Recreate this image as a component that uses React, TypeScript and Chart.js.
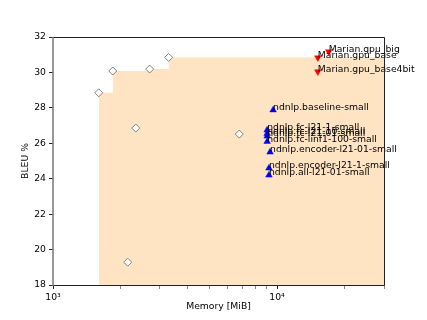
import React, { useEffect, useRef } from "react";
import { Chart, registerables } from "chart.js";

Chart.register(...registerables);

// Other systems (diamonds)
const otherMem = [1600, 1848, 2155, 2340, 2700, 3280, 6780];
const otherBleu = [28.85, 30.08, 19.29, 26.86, 30.19, 30.85, 26.52];

// Marian (red, down triangles)
const marianNames = ["Marian.gpu_big", "Marian.gpu_base", "Marian.gpu_base4bit"];
const marianMem = [17000, 15200, 15200];
const marianBleu = [31.17, 30.83, 30.04];

// ndnlp (blue, up triangles)
const ndnlpNames = [
  "ndnlp.baseline-small",
  "ndnlp.fc-l21-1-small",
  "ndnlp.fc-l21-10-small",
  "ndnlp.fc-l21-01-small",
  "ndnlp.fc-linf1-100-small",
  "ndnlp.encoder-l21-01-small",
  "ndnlp.encoder-l21-1-small",
  "ndnlp.all-l21-01-small",
];
const ndnlpMem = [9600, 9030, 9030, 9030, 9030, 9300, 9200, 9200];
const ndnlpBleu = [27.88, 26.75, 26.55, 26.4, 26.1, 25.5, 24.6, 24.2];

const xMin = 1000;
const xMax = 30000;
const yMin = 18;
const yMax = 32;
const yTicks = [18, 20, 22, 24, 26, 28, 30, 32];
const xTickValues = [1000, 2000, 3000, 4000, 5000, 6000, 7000, 8000, 9000, 10000, 20000, 30000];
const xTickLabels: Record<number, string> = { 1000: "10³", 10000: "10⁴" };

const FONT = "DejaVu Sans";

function paretoFront() {
  const idx = otherMem.map((_, i) => i).sort((a, b) => otherMem[a] - otherMem[b]);
  const pts: { x: number; y: number }[] = [];
  let best = -Infinity;
  for (const i of idx) {
    if (otherBleu[i] > best) {
      best = otherBleu[i];
      pts.push({ x: otherMem[i], y: otherBleu[i] });
    }
  }
  pts.push({ x: xMax, y: best });
  return pts;
}

export default function App() {
  const ref = useRef<HTMLCanvasElement>(null);
  useEffect(() => {
    if (!ref.current) return;
    const labelPlugin = {
      id: "labelsFrame",
      afterDatasetsDraw(chart: any) {
        const ctx = chart.ctx;
        ctx.save();
        ctx.font = `9.25px "${FONT}"`;
        ctx.fillStyle = "#000";
        ctx.textAlign = "left";
        ctx.textBaseline = "alphabetic";
        const draw = (dsIndex: number, names: string[]) => {
          const meta = chart.getDatasetMeta(dsIndex);
          meta.data.forEach((el: any, i: number) => {
            ctx.fillText(names[i], el.x, el.y);
          });
        };
        draw(2, marianNames);
        draw(3, ndnlpNames);
        ctx.restore();
      },
      afterDraw(chart: any) {
        const ctx = chart.ctx;
        const a = chart.chartArea;
        ctx.save();
        ctx.lineWidth = 1;
        ctx.strokeStyle = "#222";
        ctx.beginPath();
        ctx.moveTo(a.left, a.top + 0.5);
        ctx.lineTo(a.right + 0.5, a.top + 0.5);
        ctx.lineTo(a.right + 0.5, a.bottom + 0.5);
        ctx.lineTo(a.left, a.bottom + 0.5);
        ctx.stroke();
        ctx.strokeStyle = "#777";
        ctx.lineWidth = 1.5;
        ctx.beginPath();
        ctx.moveTo(a.left, a.top);
        ctx.lineTo(a.left, a.bottom + 1);
        ctx.stroke();
        // axis titles
        ctx.fillStyle = "#000";
        ctx.font = `9.25px "${FONT}"`;
        ctx.textAlign = "center";
        ctx.textBaseline = "middle";
        ctx.fillText("Memory [MiB]", (a.left + a.right) / 2, 307);
        ctx.translate(26, (a.top + a.bottom) / 2);
        ctx.rotate(-Math.PI / 2);
        ctx.fillText("BLEU %", 0, 0);
        ctx.restore();
      },
    };

    const chart = new Chart(ref.current, {
      type: "scatter",
      data: {
        datasets: [
          {
            type: "line",
            data: paretoFront(),
            stepped: "before",
            fill: "start",
            backgroundColor: "#FFE4C4",
            borderWidth: 0,
            borderColor: "rgba(0,0,0,0)",
            pointRadius: 0,
            order: 10,
          } as any,
          {
            data: otherMem.map((x, i) => ({ x, y: otherBleu[i] })),
            pointStyle: "rectRot",
            pointRadius: 4,
            backgroundColor: "#ffffff",
            borderColor: "#808080",
            borderWidth: 1,
            order: 3,
          },
          {
            data: marianMem.map((x, i) => ({ x, y: marianBleu[i] })),
            pointStyle: "triangle",
            rotation: 180,
            pointRadius: 3.8,
            backgroundColor: "#ff0000",
            borderColor: "#ff0000",
            borderWidth: 0.5,
            order: 2,
          } as any,
          {
            data: ndnlpMem.map((x, i) => ({ x, y: ndnlpBleu[i] })),
            pointStyle: "triangle",
            pointRadius: 3.8,
            backgroundColor: "#0000ff",
            borderColor: "#0000ff",
            borderWidth: 0.5,
            order: 1,
          },
        ],
      },
      options: {
        animation: false,
        responsive: false,
        devicePixelRatio: 1,
        clip: false as any,
        layout: { padding: { left: 0, top: 37, right: 43, bottom: 0 } },
        plugins: { legend: { display: false }, tooltip: { enabled: false } },
        scales: {
          x: {
            type: "logarithmic",
            min: xMin,
            max: xMax,
            afterBuildTicks: (s: any) => {
              s.ticks = xTickValues.map((v) => ({ value: v, major: v in xTickLabels }));
            },
            afterFit: (s: any) => {
              s.height = 35;
            },
            ticks: {
              autoSkip: false,
              maxRotation: 0,
              padding: 3,
              color: "#000",
              font: { family: FONT, size: 9.25 },
              callback: (v: any) => xTickLabels[v as number] ?? "",
            },
            grid: {
              display: true,
              drawOnChartArea: false,
              drawTicks: true,
              tickLength: 4,
              tickColor: (c: any) => (c.tick && xTickLabels[c.tick.value] ? "#222" : "#555"),
              tickWidth: (c: any) => (c.tick && xTickLabels[c.tick.value] ? 1 : 0.7),
            } as any,
            border: { display: false },
          },
          y: {
            min: yMin,
            max: yMax,
            afterBuildTicks: (s: any) => {
              s.ticks = yTicks.map((v) => ({ value: v }));
            },
            afterFit: (s: any) => {
              s.width = 53;
            },
            ticks: {
              padding: 3,
              color: "#000",
              font: { family: FONT, size: 9.25 },
              callback: (v: any) => String(v),
            },
            grid: {
              display: true,
              drawOnChartArea: false,
              drawTicks: true,
              tickLength: 4,
              tickColor: "#222",
            },
            border: { display: false },
          },
        },
      },
      plugins: [labelPlugin],
    });
    return () => chart.destroy();
  }, []);
  return (
    <div style={{ position: "absolute", left: 0, top: 0, width: 427, height: 320, background: "#fff" }}>
      <canvas ref={ref} width={427} height={320} style={{ width: 427, height: 320 }} />
    </div>
  );
}
